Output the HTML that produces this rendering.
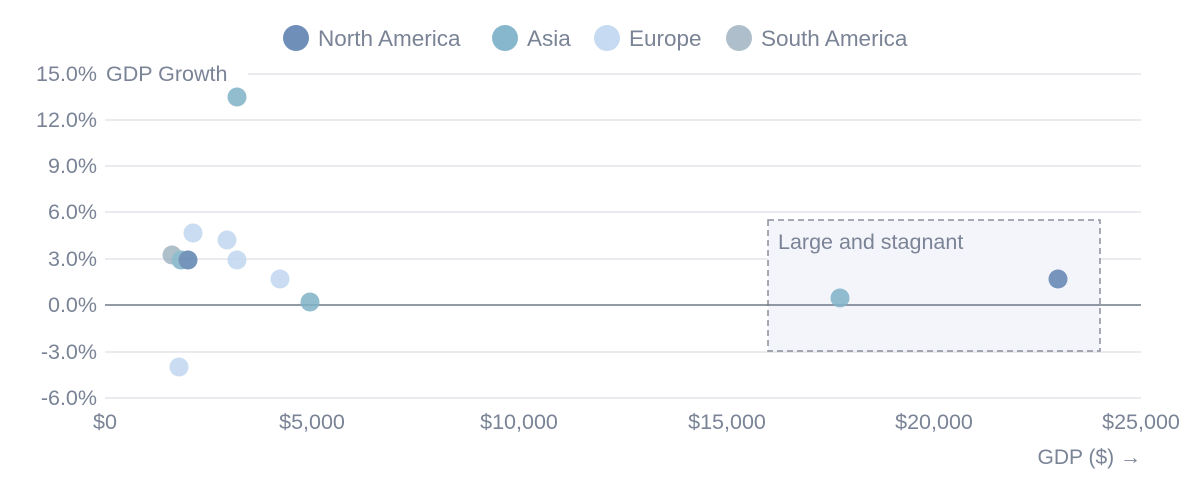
<!DOCTYPE html>
<html><head><style>body{margin:0;background:#fff}svg{display:block;font-family:"Liberation Sans",sans-serif}</style></head><body>
<svg width="1186" height="492" viewBox="0 0 1186 492">
<g font-size="22.5" fill="#7a8496">
<circle cx="296" cy="38" r="13" fill="#6f8fb8"/><text x="318" y="46">North America</text>
<circle cx="505" cy="38" r="13" fill="#86b7cc"/><text x="527" y="46">Asia</text>
<circle cx="607" cy="38" r="13" fill="#c6dbf1"/><text x="629" y="46">Europe</text>
<circle cx="739" cy="38" r="13" fill="#aebfcb"/><text x="761" y="46">South America</text>
</g>
<g stroke="#e4e4ea" stroke-width="1.5">
<line x1="248" x2="1141" y1="74" y2="74"/><line x1="105" x2="1141" y1="120" y2="120"/><line x1="105" x2="1141" y1="166" y2="166"/><line x1="105" x2="1141" y1="212" y2="212"/><line x1="105" x2="1141" y1="259" y2="259"/><line x1="105" x2="1141" y1="352" y2="352"/><line x1="105" x2="1141" y1="398" y2="398"/>
</g>
<rect x="768" y="220" width="332" height="131" fill="#f4f5fa" stroke="#8a8f9a" stroke-width="1.5" stroke-dasharray="6,4"/>
<text x="778" y="249" font-size="21.5" fill="#7a8496">Large and stagnant</text>
<line x1="105" x2="1141" y1="305" y2="305" stroke="#6e7888" stroke-width="1.5"/>
<g font-size="21.5" fill="#7a8496" text-anchor="end">
<text x="97" y="81">15.0%</text><text x="97" y="127">12.0%</text><text x="97" y="173">9.0%</text><text x="97" y="219">6.0%</text><text x="97" y="266">3.0%</text><text x="97" y="312">0.0%</text><text x="97" y="359">-3.0%</text><text x="97" y="405">-6.0%</text>
</g>
<text x="106" y="81" font-size="21.5" fill="#7a8496">GDP Growth</text>
<g font-size="21.5" fill="#7a8496" text-anchor="middle">
<text x="105" y="429">$0</text><text x="312" y="429">$5,000</text><text x="519" y="429">$10,000</text><text x="727" y="429">$15,000</text><text x="934" y="429">$20,000</text><text x="1141" y="429">$25,000</text>
</g>
<text x="1141" y="464" font-size="21" fill="#7a8496" text-anchor="end">GDP ($) →</text>
<g opacity="0.85">
<circle cx="193" cy="233" r="9.5" fill="#c0d7ef"/><circle cx="227" cy="240" r="9.5" fill="#c0d7ef"/><circle cx="237" cy="260" r="9.5" fill="#c0d7ef"/><circle cx="280" cy="279" r="9.5" fill="#c0d7ef"/><circle cx="179" cy="367" r="9.5" fill="#c0d7ef"/>
<circle cx="172" cy="255" r="9.5" fill="#a2b6c3"/>
<circle cx="181" cy="260" r="9.5" fill="#7fb2c7"/><circle cx="237" cy="97" r="9.5" fill="#7fb2c7"/><circle cx="310" cy="302" r="9.5" fill="#7fb2c7"/><circle cx="840" cy="298" r="9.5" fill="#7fb2c7"/>
<circle cx="188" cy="260" r="9.5" fill="#5f83b0"/><circle cx="1058" cy="279" r="9.5" fill="#5f83b0"/>
</g>
</svg>
</body></html>
